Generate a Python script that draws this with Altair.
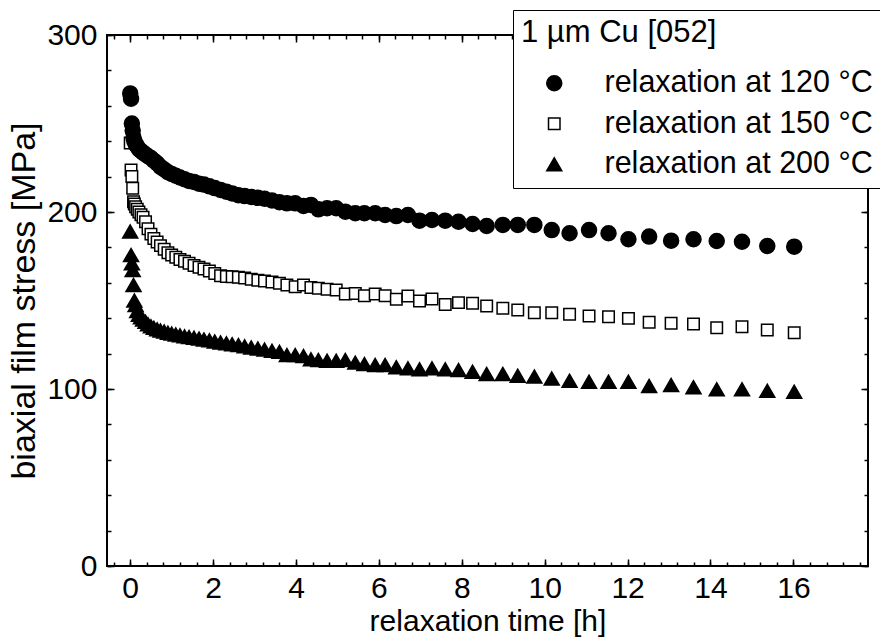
import altair as alt
import pandas as pd

# ---- data ----
time_h = [0.0, 0.02, 0.04, 0.06, 0.08, 0.1, 0.13, 0.17, 0.21, 0.26, 0.31, 0.37, 0.43, 0.5,
          0.57, 0.65, 0.73, 0.82, 0.91, 1.0, 1.1, 1.2, 1.31, 1.42, 1.54, 1.66, 1.78, 1.91,
          2.04, 2.18, 2.32, 2.46, 2.61, 2.76, 2.92, 3.08, 3.24, 3.42, 3.6,
          3.78, 3.98, 4.18, 4.36, 4.54, 4.75, 4.97, 5.19, 5.43, 5.65, 5.91, 6.15, 6.42, 6.70,
          6.98, 7.28, 7.6, 7.92, 8.26, 8.6, 8.99, 9.35, 9.75, 10.17, 10.6, 11.07, 11.54,
          12.02, 12.52, 13.05, 13.59, 14.15, 14.76, 15.37, 16.02]

stress_120 = [267, 264, 250, 246, 242, 240, 238.5, 237, 235.5, 234.5, 233.5, 232.5, 231.5, 230.5,
              229, 227.5, 225.5, 224, 222.5, 221.5, 220.5, 219.5, 218.5, 217.5, 217, 216, 215.5,
              214.5, 213.5, 212.5, 211.5, 210.5, 209.5, 209, 208.5, 208, 207.5, 206.5, 205.5,
              204.9, 204.9, 203.4, 204.0, 201.5, 202.1, 202.1, 200.2, 199.3, 199.3, 199.3, 198.3,
              197.7, 198.3, 195.1, 195.5, 195.1, 194.5, 193.2, 192.1, 192.7, 192.7, 192.7, 189.8,
              188.0, 189.8, 188.0, 184.6, 186.1, 183.8, 184.6, 183.6, 183.2, 180.8, 180.4]

stress_150 = [239, 223.7, 220, 213.4, 205.8, 204.5, 203, 201.5, 200, 198.5, 197, 194.5, 190.5,
              187.5, 185, 183, 181, 179, 177, 175.7, 174.4, 173.2, 172.2, 171, 169.8, 168.8,
              167.8, 166.6, 165.2, 164, 163.6, 163.4, 163.2, 162.7, 162, 161.5, 161, 160.5, 159.7,
              158.8, 157.8, 158.8, 157.4, 156.9, 156.3, 155.9, 153.7, 154.0, 152.7, 153.7, 152.7,
              150.7, 152.5, 149.7, 150.8, 147.8, 148.8, 148.4, 146.9, 145.6, 144.6, 143.1, 143.1,
              142.2, 141.2, 140.8, 139.9, 137.7, 137.1, 136.7, 134.6, 135.2, 133.3, 131.8]

stress_200 = [189, 175.7, 171, 167.2, 158.8, 150, 147.5, 144, 142, 140.5, 139.3, 138, 136.6,
              135.4, 134.6, 133.7, 133.1, 132.5, 131.8, 131.3, 130.8, 130.3, 129.8, 129.4, 129.0,
              128.5, 128.0, 127.5, 126.9, 126.3, 125.8, 125.3, 124.8, 124.1, 123.5, 122.9, 122.3,
              121.6, 121.0,
              119.2, 119.2, 118.6, 116.8, 116.4, 116.0, 116.0, 116.4, 114.9, 114.1, 113.6, 113.6,
              112.3, 111.7, 111.1, 111.7, 111.1, 110.7, 109.8, 108.5, 108.5, 107.5, 107.0, 106.0,
              104.7, 104.1, 104.1, 104.1, 101.7, 102.3, 101.0, 99.8, 99.8, 99.0, 98.5]

series_names = ["relaxation at 120 °C", "relaxation at 150 °C", "relaxation at 200 °C"]
legend_title = "1 µm Cu [052]"
x_major_ticks = [0, 2, 4, 6, 8, 10, 12, 14, 16]
y_major_ticks = [0, 100, 200, 300]
x_minor_ticks = [round(-0.4 + 0.4 * k, 2) for k in range(46)]
y_minor_ticks = [20 * k for k in range(16)]

# draw order: squares, triangles, then circles on top
rows = []
for name, vals in [(series_names[1], stress_150), (series_names[2], stress_200),
                   (series_names[0], stress_120)]:
    for t, v in zip(time_h, vals):
        rows.append({"t": t, "s": v, "series": name})
df = pd.DataFrame(rows)

W, H = 761, 531
FONT = "Liberation Sans"
xs = alt.Scale(domain=[-0.56, 17.8], nice=False, zero=False)
ys = alt.Scale(domain=[0, 300], nice=False, zero=False)

legend = alt.Legend(
    title=legend_title, orient="none", legendX=406, legendY=-25,
    titleFontSize=31, titleFont=FONT, titleFontWeight="normal", titleColor="black",
    titlePadding=19, titleLimit=600,
    labelFontSize=30.5, labelFont=FONT, labelColor="black", labelLimit=600, labelOffset=35,
    padding=8, rowPadding=9.5, symbolOffset=18,
    symbolStrokeColor="black", symbolStrokeWidth=1.5,
    fillColor="white", strokeColor="black",
)

points = alt.Chart(df).mark_point(filled=True, opacity=1).encode(
    x=alt.X("t:Q", scale=xs, axis=alt.Axis(
        orient="bottom", values=x_major_ticks, title="relaxation time [h]", ticks=False,
        domain=False, grid=False, labelFontSize=30, titleFontSize=30, labelPadding=7,
        titlePadding=3, labelFont=FONT, titleFont=FONT, labelFontWeight="normal")),
    y=alt.Y("s:Q", scale=ys, axis=alt.Axis(
        orient="left", values=y_major_ticks, title="biaxial film stress [MPa]", ticks=False,
        domain=False, grid=False, labelFontSize=30, titleFontSize=34, labelPadding=10,
        titleX=-82.5, titleBaseline="middle", titleAlign="center",
        labelFont=FONT, titleFont=FONT, labelFontWeight="normal")),
    shape=alt.Shape("series:N", scale=alt.Scale(domain=series_names,
                    range=["circle", "square", "triangle-up"]), legend=legend),
    fill=alt.Fill("series:N", scale=alt.Scale(domain=series_names,
                  range=["black", "white", "black"]), legend=legend),
    stroke=alt.Stroke("series:N", scale=alt.Scale(domain=series_names,
                      range=["black", "black", "black"]), legend=legend),
    size=alt.Size("series:N", scale=alt.Scale(type="ordinal", domain=series_names,
                  range=[225, 132, 225]), legend=legend),
    strokeWidth=alt.value(1.5),
)


def tick_layer(xvals, yvals, size, x_orient, y_orient):
    return alt.Chart(df).mark_point(opacity=0).encode(
        x=alt.X("t:Q", scale=xs, axis=alt.Axis(
            orient=x_orient, offset=-H, values=xvals, tickSize=size, labels=False,
            domain=False, grid=False, title=None, tickColor="black", tickWidth=1.5)),
        y=alt.Y("s:Q", scale=ys, axis=alt.Axis(
            orient=y_orient, offset=-W, values=yvals, tickSize=size, labels=False,
            domain=False, grid=False, title=None, tickColor="black", tickWidth=1.5)),
    )


chart = alt.layer(
    tick_layer(x_minor_ticks, y_minor_ticks, 4, "top", "right"),
    tick_layer(x_minor_ticks, y_minor_ticks, 4, "bottom", "left"),
    tick_layer(x_major_ticks, y_major_ticks, 7, "top", "right"),
    tick_layer(x_major_ticks, y_major_ticks, 7, "bottom", "left"),
    points,
).resolve_axis(x="independent", y="independent").properties(
    width=W, height=H,
    autosize=alt.AutoSizeParams(type="none"),
    padding={"left": 107, "top": 35, "right": 12, "bottom": 77},
    background="white",
).configure_view(stroke="black", strokeWidth=2).configure_axis(
    labelColor="black", titleColor="black", titleFontWeight="normal",
)

chart.save("out.html", embed_options={"renderer": "svg", "actions": False})
